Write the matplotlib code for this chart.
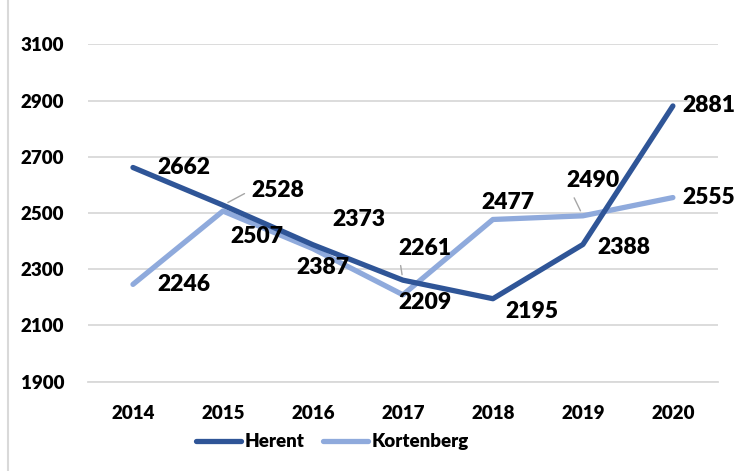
import matplotlib.pyplot as plt
from matplotlib.lines import Line2D

years = ['2014', '2015', '2016', '2017', '2018', '2019', '2020']
herent = [2662, 2528, 2387, 2261, 2195, 2388, 2881]
kortenberg = [2246, 2507, 2373, 2209, 2477, 2490, 2555]

# label offsets in pixels (dx, dy) from each point, and whether it has a leader line
herent_offsets = [(24, 0), (28, 15), (-17, -23), (-5, 32), (12, -13), (14, -3), (9, 0)]
herent_leader = [False, True, False, True, False, False, False]
kort_offsets = [(24, 0), (7, -25), (19, 29), (-5, -8), (-12, 17), (-17, 35), (9, 0)]
kort_leader = [False, False, False, False, False, True, False]

dark = '#2F5597'
light = '#8FAADC'
font = 'Lato'

fig = plt.figure(figsize=(7.35, 4.71), dpi=100)
ax = fig.add_axes([0.1197, 0.1898, 0.857, 0.7159])

x = list(range(len(years)))
ax.plot(x, kortenberg, color=light, lw=3.8, solid_capstyle='round', zorder=3)
ax.plot(x, herent, color=dark, lw=3.8, solid_capstyle='round', zorder=4)

ax.set_xlim(-0.5, 6.5)
ax.set_ylim(1900, 3100)
ax.set_yticks(range(1900, 3101, 200))
ax.set_xticks(x)
ax.set_xticklabels(years)
ax.grid(axis='y', color='#D9D9D9', lw=1.3)
ax.set_axisbelow(True)
for s in ['top', 'right', 'left']:
    ax.spines[s].set_visible(False)
ax.spines['bottom'].set_color('#D9D9D9')
ax.spines['bottom'].set_linewidth(1.3)
ax.tick_params(length=0)
ax.tick_params(axis='y', pad=17)
ax.tick_params(axis='x', pad=17)
for lab in ax.get_xticklabels() + ax.get_yticklabels():
    lab.set_fontfamily(font)
    lab.set_fontweight('heavy')
    lab.set_fontsize(13.5)


def add_labels(vals, offsets, leaders):
    for i, v in enumerate(vals):
        dx, dy = offsets[i]
        kw = {}
        if leaders[i]:
            kw['arrowprops'] = dict(arrowstyle='-', color='#A6A6A6', lw=1,
                                    shrinkA=3, shrinkB=4, relpos=(0, 0.5))
        ax.annotate(str(v), (i, v), xytext=(dx, dy), textcoords='offset pixels',
                    ha='left', va='center', fontsize=16.5, fontweight='heavy',
                    fontfamily=font, color='black', zorder=5, **kw)


add_labels(herent, herent_offsets, herent_leader)
add_labels(kortenberg, kort_offsets, kort_leader)

handles = [Line2D([], [], color=dark, lw=3.8, solid_capstyle='round'),
           Line2D([], [], color=light, lw=3.8, solid_capstyle='round')]
fig.legend(handles, ['Herent', 'Kortenberg'], loc='center', bbox_to_anchor=(0.452, 0.0616),
           ncol=2, frameon=False, handlelength=2.4, handletextpad=0.2, columnspacing=1.0,
           prop={'family': font, 'weight': 'heavy', 'size': 13.5})

# chart area border on the left
fig.add_artist(Line2D([8 / 735, 8 / 735], [0, 1], color='#D9D9D9', lw=1.5))

fig.savefig('out.png', dpi=100)
